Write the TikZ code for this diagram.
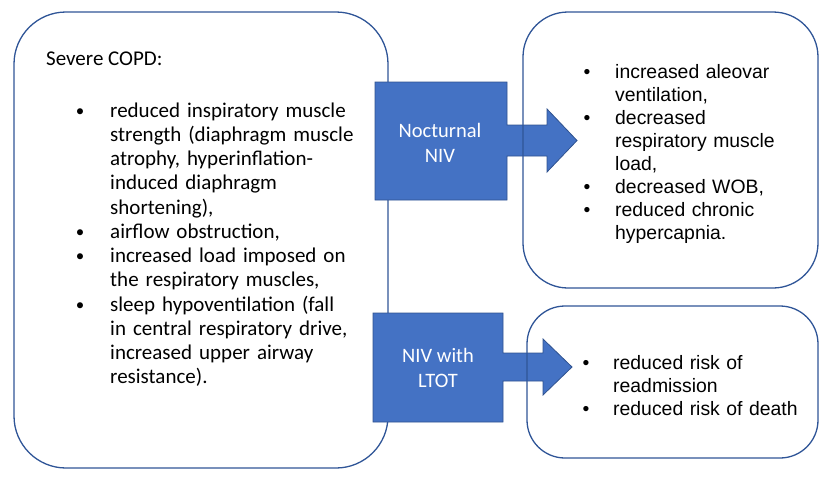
\documentclass[tikz,border=0pt]{standalone}
\usepackage{fontspec}
\setmainfont{Carlito}
\newfontfamily\arialf{Liberation Sans}
\definecolor{boxblue}{HTML}{2F5597}
\definecolor{arrfill}{HTML}{4472C4}
\definecolor{arrline}{HTML}{2F528F}
\begin{document}
\begin{tikzpicture}[x=1pt,y=-1pt,
  roundbox/.style={draw=boxblue, line width=1.3pt, inner sep=0pt, outer sep=0pt},
  blockarrow/.style={fill=arrfill, draw=arrline, line width=0.8pt},
  arrowlabel/.style={text=white, align=center, font={\fontsize{20.5}{25}\selectfont}},
  lefttext/.style={anchor=base west, inner sep=0pt, text width=300pt, align=left, font={\fontsize{21}{24.25}\selectfont}},
  leftbullet/.style={anchor=base, inner sep=0pt, font={\fontsize{17}{24.25}\selectfont}},
  righttext/.style={anchor=base west, inner sep=0pt, text width=220pt, align=left, font={\arialf\fontsize{19.4}{23.1}\selectfont}},
  rightbullet/.style={anchor=base, inner sep=0pt, font={\arialf\fontsize{19.4}{23.1}\selectfont}}
]
\useasboundingbox (0,0) rectangle (829,480);
% left box
\node[roundbox, rounded corners=52pt, minimum width=374pt, minimum height=456pt] (copd) at (201,240) {};
\node[anchor=base west, inner sep=0pt, font={\fontsize{21}{24.25}\selectfont}] (title) at (46,65) {Severe COPD:};
\node[leftbullet] (b1) at (80,116) {•};
\node[lefttext] (t1) at (110,117) {reduced inspiratory muscle\\strength (diaphragm muscle\\atrophy, hyperinflation-\\induced diaphragm\\shortening),};
\node[leftbullet] (b2) at (80,237.25) {•};
\node[lefttext] (t2) at (110,238.25) {airflow obstruction,};
\node[leftbullet] (b3) at (80,261.5) {•};
\node[lefttext] (t3) at (110,262.5) {increased load imposed on\\the respiratory muscles,};
\node[leftbullet] (b4) at (80,310) {•};
\node[lefttext] (t4) at (110,311) {sleep hypoventilation (fall\\in central respiratory drive,\\increased upper airway\\resistance).};
% arrows
\draw[blockarrow] (375,82) -- (507,82) -- (507,125) -- (547,125) -- (547,109) -- (577,140.5) -- (547,172) -- (547,156) -- (507,156) -- (507,200) -- (375,200) -- cycle;
\node[arrowlabel] (noct) at (440,143) {Nocturnal\\NIV};
\draw[blockarrow] (373,313) -- (503,313) -- (503,353) -- (543,353) -- (543,339) -- (572,367) -- (543,395) -- (543,381) -- (503,381) -- (503,422) -- (373,422) -- cycle;
\node[arrowlabel] (ltot) at (438,368) {NIV with\\LTOT};
% right top box
\node[roundbox, rounded corners=45pt, minimum width=295pt, minimum height=276pt] (effects) at (670.5,150) {};
\node[rightbullet] (rb1) at (587,78) {•};
\node[righttext] (r1) at (615,78) {increased aleovar\\ventilation,};
\node[rightbullet] (rb2) at (587,124.2) {•};
\node[righttext] (r2) at (615,124.2) {decreased\\respiratory muscle\\load,};
\node[rightbullet] (rb3) at (587,193.5) {•};
\node[righttext] (r3) at (615,193.5) {decreased WOB,};
\node[rightbullet] (rb4) at (587,216.6) {•};
\node[righttext] (r4) at (615,216.6) {reduced chronic\\hypercapnia.};
% right bottom box
\node[roundbox, rounded corners=38pt, minimum width=291pt, minimum height=152pt] (outcome) at (672.5,382) {};
\node[rightbullet] (ob1) at (586,369) {•};
\node[righttext] (o1) at (613,369) {reduced risk of\\readmission};
\node[rightbullet] (ob2) at (586,415) {•};
\node[righttext] (o2) at (613,415) {reduced risk of death};
\end{tikzpicture}
\end{document}
